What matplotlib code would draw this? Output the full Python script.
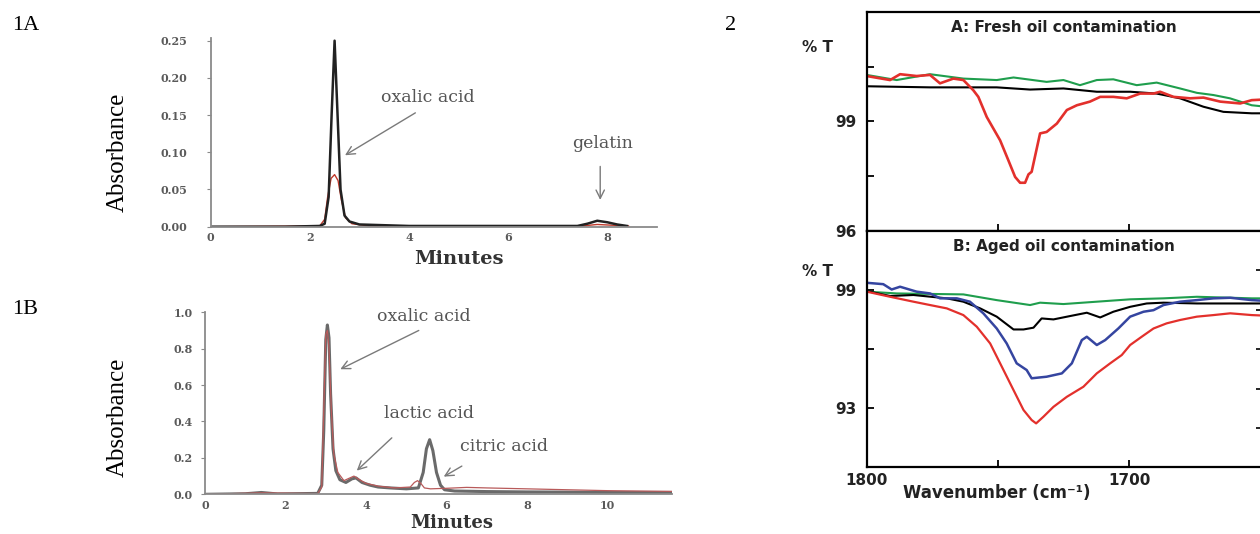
import matplotlib.pyplot as plt

# ---- data: panel 1A (chromatogram, standards) ----
a_time_black = [0, 1.5, 2.2, 2.3, 2.38, 2.44, 2.5, 2.56, 2.62, 2.7, 2.8, 3.0, 3.5, 4.0,
                6.0, 7.4, 7.6, 7.8, 8.0, 8.2, 8.4]
a_abs_black = [0, 0, 0.001, 0.004, 0.04, 0.15, 0.25, 0.15, 0.05, 0.015, 0.007, 0.003, 0.002,
               0.001, 0.001, 0.001, 0.004, 0.008, 0.006, 0.003, 0.001]
a_time_red = [0, 2.2, 2.3, 2.36, 2.43, 2.5, 2.57, 2.64, 2.72, 2.85, 3.2, 7.5, 7.8, 8.1, 8.43]
a_abs_red = [0, 0.001, 0.01, 0.04, 0.065, 0.07, 0.062, 0.035, 0.012, 0.004, 0.001, 0.001,
             0.003, 0.002, 0.001]

# ---- data: panel 1B (chromatogram, sample) ----
b_time_gray = [0, 1.0, 1.4, 1.8, 2.8, 2.9, 2.95, 3.0, 3.04, 3.08, 3.12, 3.18, 3.25, 3.35, 3.5,
               3.65, 3.75, 3.9, 4.1, 4.3, 4.6, 5.0, 5.3, 5.42, 5.5, 5.58, 5.66, 5.75, 5.85,
               5.95, 6.2, 7.0, 8.0, 9.0, 10.0, 11.6]
b_abs_gray = [0, 0.003, 0.01, 0.002, 0.005, 0.05, 0.35, 0.85, 0.93, 0.86, 0.55, 0.25, 0.13,
              0.08, 0.065, 0.085, 0.09, 0.065, 0.05, 0.04, 0.035, 0.03, 0.035, 0.12, 0.25, 0.3,
              0.24, 0.12, 0.05, 0.025, 0.018, 0.015, 0.013, 0.012, 0.01, 0.01]
b_time_red = [0, 1.4, 2.8, 2.9, 2.96, 3.0, 3.04, 3.08, 3.14, 3.2, 3.3, 3.45, 3.6, 3.7, 3.8,
              4.0, 4.3, 4.7, 5.1, 5.2, 5.28, 5.36, 5.45, 5.6, 6.0, 6.5, 7.0, 8.0, 9.0, 10.0, 11.6]
b_abs_red = [0, 0.008, 0.004, 0.04, 0.55, 0.88, 0.9, 0.8, 0.45, 0.22, 0.12, 0.075, 0.09, 0.1,
             0.085, 0.06, 0.045, 0.035, 0.04, 0.065, 0.075, 0.06, 0.035, 0.03, 0.033, 0.038,
             0.035, 0.03, 0.025, 0.02, 0.016]

# ---- data: panel 2A (fresh oil, %T vs wavenumber) ----
fa_wn_green = [1800, 1788.6, 1775.9, 1763.2, 1750.5, 1744.1, 1731.5, 1725.1, 1718.8, 1712.4,
               1706.1, 1697.2, 1689.6, 1680.7, 1674.3, 1668.0, 1661.7, 1653.4, 1648]
fa_t_green = [100.27, 100.13, 100.29, 100.17, 100.13, 100.20, 100.08, 100.13, 99.99, 100.13,
              100.15, 99.99, 100.06, 99.90, 99.78, 99.72, 99.63, 99.44, 99.40]
fa_wn_black = [1800, 1775.9, 1750.5, 1737.8, 1725.1, 1712.4, 1699.7, 1689.6, 1680.7, 1671.8,
               1664.2, 1653.4, 1648]
fa_t_black = [99.96, 99.93, 99.93, 99.87, 99.90, 99.81, 99.81, 99.76, 99.63, 99.40, 99.26,
              99.22, 99.22]
fa_wn_red = [1800, 1791.1, 1787.3, 1781.0, 1775.9, 1772.1, 1767.0, 1763.2, 1759.4, 1757.5,
             1754.3, 1749.2, 1746.1, 1743.5, 1741.6, 1739.7, 1738.4, 1737.2, 1734.0, 1731.5,
             1727.6, 1723.8, 1720.0, 1715.0, 1711.1, 1706.1, 1701.0, 1695.9, 1690.8, 1688.3,
             1683.2, 1676.9, 1671.8, 1665.4, 1657.8, 1653.4, 1648]
fa_t_red = [100.24, 100.13, 100.29, 100.24, 100.27, 100.04, 100.17, 100.13, 99.85, 99.67,
            99.12, 98.48, 97.94, 97.48, 97.32, 97.32, 97.55, 97.62, 98.67, 98.71, 98.94, 99.31,
            99.44, 99.54, 99.67, 99.67, 99.63, 99.76, 99.76, 99.81, 99.67, 99.63, 99.65, 99.54,
            99.49, 99.58, 99.60]

# ---- data: panel 2B (aged oil) ----
fb_wn_green = [1800, 1788.6, 1763.2, 1750.5, 1737.8, 1734.0, 1725.1, 1712.4, 1699.7, 1687.0,
               1674.3, 1653.4, 1648]
fb_t_green = [98.92, 98.83, 98.78, 98.49, 98.24, 98.36, 98.29, 98.41, 98.53, 98.58, 98.66,
              98.58, 98.58]
fb_wn_black = [1800, 1791.1, 1782.2, 1769.5, 1763.2, 1756.8, 1750.5, 1744.1, 1740.3, 1736.5,
               1733.4, 1728.9, 1722.6, 1716.2, 1711.1, 1706.1, 1699.7, 1693.4, 1687.0, 1674.3,
               1653.4, 1648]
fb_t_black = [98.95, 98.70, 98.75, 98.58, 98.41, 98.07, 97.65, 97.00, 97.00, 97.09, 97.56,
              97.51, 97.68, 97.85, 97.61, 97.90, 98.15, 98.32, 98.36, 98.32, 98.32, 98.32]
fb_wn_blue = [1800, 1793.7, 1790.5, 1787.3, 1781.0, 1775.9, 1772.1, 1765.7, 1760.7, 1755.6,
              1750.5, 1746.7, 1742.9, 1739.1, 1737.2, 1731.5, 1725.7, 1721.9, 1718.1, 1716.2,
              1712.4, 1709.2, 1704.2, 1699.7, 1694.6, 1690.8, 1687.0, 1680.7, 1674.3, 1668.0,
              1661.6, 1653.4, 1648]
fb_t_blue = [99.37, 99.30, 99.03, 99.17, 98.92, 98.83, 98.58, 98.58, 98.41, 97.82, 97.05,
             96.29, 95.28, 94.94, 94.52, 94.60, 94.77, 95.28, 96.46, 96.63, 96.21, 96.46, 97.05,
             97.65, 97.90, 97.98, 98.24, 98.41, 98.49, 98.58, 98.61, 98.49, 98.45]
fb_wn_red = [1800, 1791.1, 1782.2, 1775.9, 1769.5, 1763.2, 1758.1, 1753.0, 1749.2, 1744.1,
             1740.3, 1737.2, 1735.5, 1732.7, 1728.9, 1723.8, 1717.5, 1712.4, 1707.3, 1702.9,
             1699.7, 1695.3, 1690.8, 1685.8, 1680.7, 1674.3, 1668.0, 1661.6, 1653.4, 1648]
fb_t_red = [98.92, 98.66, 98.41, 98.24, 98.07, 97.73, 97.14, 96.29, 95.28, 93.92, 92.91, 92.40,
            92.23, 92.57, 93.07, 93.58, 94.09, 94.77, 95.28, 95.70, 96.21, 96.63, 97.05, 97.31,
            97.48, 97.65, 97.73, 97.82, 97.73, 97.70]

W, H = 1260, 534
fig = plt.figure(figsize=(W / 100, H / 100), dpi=100)


def px_axes(left, top, right, bottom):
    return fig.add_axes([left / W, 1 - bottom / H, (right - left) / W, (bottom - top) / H])


def fig_text(x, y, s, **kw):
    fig.text(x / W, 1 - y / H, s, ha="center", va="center", **kw)


serif = "Liberation Serif"
wide_serif = "DejaVu Serif"
sans = "DejaVu Sans"
spine_gray = "#8a8a8a"
tick_gray = "#5a5a5a"
arrow_gray = "#7a7a7a"


def style_chrom(ax, ypad, label_xy, label_size):
    for side in ["top", "right"]:
        ax.spines[side].set_visible(False)
    for side in ["left", "bottom"]:
        ax.spines[side].set_color(spine_gray)
        ax.spines[side].set_linewidth(1.3)
    ax.tick_params(axis="y", direction="out", length=3, width=0.8, color=spine_gray, pad=ypad)
    ax.tick_params(axis="x", direction="out", length=0, pad=4)
    for lab in ax.get_xticklabels() + ax.get_yticklabels():
        lab.set_fontfamily(wide_serif)
        lab.set_fontweight("bold")
        lab.set_fontsize(8)
        lab.set_color(tick_gray)
    ax.set_xlabel("Minutes", family=wide_serif, weight="bold", fontsize=label_size,
                  color="#333333", va="center")
    ax.xaxis.set_label_coords(*label_xy)


def arrow(ax, tip, tail):
    ax.annotate("", xy=tip, xytext=tail,
                arrowprops=dict(arrowstyle="->,head_length=0.6,head_width=0.3",
                                color=arrow_gray, lw=1.0, shrinkA=0, shrinkB=0))


def note(ax, x, y, s):
    ax.text(x, y, s, family=wide_serif, fontsize=12.5, color="#555555", ha="center",
            va="center")


# ---- 1A ----
ax1 = px_axes(210.7, 37.7, 656.7, 226.7)
ax1.plot(a_time_red, a_abs_red, color="#c0392b", lw=1.0)
ax1.plot(a_time_black, a_abs_black, color="#222222", lw=1.8)
ax1.set_xlim(0, 9.0)
ax1.set_ylim(0, 0.254)
ax1.set_xticks([0, 2, 4, 6, 8])
ax1.set_yticks([0, 0.05, 0.10, 0.15, 0.20, 0.25])
ax1.set_yticklabels(["0.00", "0.05", "0.10", "0.15", "0.20", "0.25"])
style_chrom(ax1, 14, (0.557, -0.17), 14)
note(ax1, 4.39, 0.173, "oxalic acid")
arrow(ax1, (2.71, 0.096), (4.13, 0.153))
note(ax1, 7.9, 0.112, "gelatin")
arrow(ax1, (7.86, 0.036), (7.86, 0.081))

# ---- 1B ----
ax2 = px_axes(205, 311.7, 672, 494.3)
ax2.plot(b_time_gray, b_abs_gray, color="#6a6a6a", lw=2.2)
ax2.plot(b_time_red, b_abs_red, color="#b85a5a", lw=0.9)
ax2.set_xlim(0, 11.6)
ax2.set_ylim(0, 1.003)
ax2.set_xticks([0, 2, 4, 6, 8, 10])
ax2.set_yticks([0, 0.2, 0.4, 0.6, 0.8, 1.0])
ax2.set_yticklabels(["0.0", "0.2", "0.4", "0.6", "0.8", "1.0"])
style_chrom(ax2, 6, (0.529, -0.157), 13)
note(ax2, 5.43, 0.976, "oxalic acid")
arrow(ax2, (3.36, 0.687), (5.31, 0.90))
note(ax2, 5.56, 0.445, "lactic acid")
arrow(ax2, (3.77, 0.13), (4.64, 0.31))
note(ax2, 7.42, 0.26, "citric acid")
arrow(ax2, (5.93, 0.097), (6.38, 0.155))

fig_text(118, 152, "Absorbance", family=serif, fontsize=18, rotation=90)
fig_text(118, 417, "Absorbance", family=serif, fontsize=18, rotation=90)
fig_text(26, 26, "1A", family=serif, fontsize=16)
fig_text(25, 309, "1B", family=serif, fontsize=16)

# ---- 2A / 2B ----
ir_red, ir_green, ir_blue = "#e3302c", "#1f9e4d", "#3545a0"
axa = px_axes(866.7, 11.7, 1262, 231)
axb = px_axes(866.7, 231, 1262, 467.3)

axa.plot(fa_wn_black, fa_t_black, color="black", lw=1.5)
axa.plot(fa_wn_green, fa_t_green, color=ir_green, lw=1.5)
axa.plot(fa_wn_red, fa_t_red, color=ir_red, lw=1.9)
axa.set_ylim(96, 102)
axa.set_yticks([96, 97.5, 99, 100.5])
axa.set_yticklabels(["96", "", "99", ""])

axb.plot(fb_wn_green, fb_t_green, color=ir_green, lw=1.5)
axb.plot(fb_wn_black, fb_t_black, color="black", lw=1.5)
axb.plot(fb_wn_blue, fb_t_blue, color=ir_blue, lw=1.8)
axb.plot(fb_wn_red, fb_t_red, color=ir_red, lw=1.6)
axb.set_ylim(90, 102)
axb.set_yticks([93, 96, 99])
axb.set_yticklabels(["93", "", "99"])
axr = axb.secondary_yaxis("right")
axr.set_yticks([92, 94, 96, 98, 100])
axr.tick_params(direction="in", length=4, width=1.2, labelright=False)

for ax in (axa, axb):
    ax.set_xlim(1800, 1649.5)
    ax.set_xticks([1800, 1750, 1700])
    ax.set_xticklabels(["1800", "", "1700"])
    for sp in ax.spines.values():
        sp.set_linewidth(1.6)
    ax.tick_params(direction="in", length=5, width=1.3, pad=4)
    ax.tick_params(axis="y", pad=7)
    for lab in ax.get_xticklabels() + ax.get_yticklabels():
        lab.set_fontfamily(sans)
        lab.set_fontweight("bold")
        lab.set_fontsize(11)
        lab.set_color("#222222")
axa.tick_params(axis="x", labelbottom=False)

axa.text(0.5, 0.93, "A: Fresh oil contamination", transform=axa.transAxes, ha="center",
         va="center", family=sans, weight="bold", fontsize=11, color="#222222")
axb.text(0.5, 0.935, "B: Aged oil contamination", transform=axb.transAxes, ha="center",
         va="center", family=sans, weight="bold", fontsize=11, color="#222222")
fig_text(817, 48, "% T", family=sans, weight="bold", fontsize=11, color="#222222")
fig_text(817, 272, "% T", family=sans, weight="bold", fontsize=11, color="#222222")
fig_text(997, 493, "Wavenumber (cm⁻¹)", family=sans, weight="bold", fontsize=12,
         color="#222222")
fig_text(731, 25, "2", family=serif, fontsize=16)

fig.savefig("out.png", dpi=100)
